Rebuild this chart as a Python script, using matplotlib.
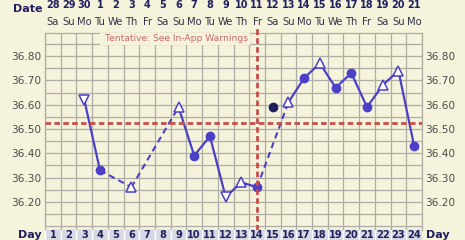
import matplotlib.pyplot as plt
from matplotlib.patches import Rectangle
import matplotlib.transforms as mtransforms

# chart data
day_nums = list(range(1, 25))
dates = ['28', '29', '30', '1', '2', '3', '4', '5', '6', '7', '8', '9', '10', '11',
         '12', '13', '14', '15', '16', '17', '18', '19', '20', '21']
weekdays = ['Sa', 'Su', 'Mo', 'Tu', 'We', 'Th', 'Fr', 'Sa', 'Su', 'Mo', 'Tu', 'We',
            'Th', 'Fr', 'Sa', 'Su', 'Mo', 'Tu', 'We', 'Th', 'Fr', 'Sa', 'Su', 'Mo']
days = [3, 4, 6, 9, 10, 11, 12, 13, 14, 16, 17, 18, 19, 20, 21, 22, 23, 24]
temps = [36.62, 36.33, 36.26, 36.59, 36.39, 36.47, 36.22, 36.28, 36.26, 36.61,
         36.71, 36.77, 36.67, 36.73, 36.59, 36.68, 36.74, 36.43]
kinds = ['v', 'o', '^', '^', 'o', 'o', 'v', '^', 'o', '^', 'o', '^', 'o', 'o', 'o', '^', '^', 'o']
excl_day = [15]
excl_temp = [36.59]
cover_line = 36.525
ovulation_day = 14
yticks = [36.20, 36.30, 36.40, 36.50, 36.60, 36.70, 36.80]

BG = '#f6f3dd'
GRID = '#aeada3'
BLUE = '#4b40c6'
RED = '#c4504a'
NAVY = '#1f1f5c'

W, H = 465, 240
fig = plt.figure(figsize=(W / 100, H / 100), dpi=100, facecolor=BG)
L, R, T, B = 45, 422, 33, 229.5
ax = fig.add_axes([L / W, 1 - B / H, (R - L) / W, (B - T) / H])
ax.set_facecolor(BG)
ax.set_xlim(0.5, 24.5)
ax.set_ylim(36.086, 36.895)

# grid
for x in range(0, 25):
    ax.axvline(x + 0.5, color=GRID, lw=0.9, zorder=1)
y = 36.10
while y < 36.9:
    ax.axhline(y, color=GRID, lw=0.9, zorder=1)
    y += 0.05
for s in ax.spines.values():
    s.set_color(GRID)
    s.set_linewidth(0.9)

# tentative box covering the top of the grid
fig.patches.append(Rectangle((100 / W, 1 - 45 / H), 150 / W, 12 / H,
                             transform=fig.transFigure, facecolor=BG,
                             edgecolor='none', zorder=2))
fig.text(176 / W, 1 - 38.5 / H, 'Tentative: See In-App Warnings', color='#c86a68',
         fontsize=6.6, ha='center', va='center', zorder=3)

# temperature line: solid for consecutive days, dashed across gaps
for i in range(len(days) - 1):
    ls = '-' if days[i + 1] - days[i] == 1 else (0, (3, 2))
    lw = 1.6 if ls == '-' else 1.5
    ax.plot(days[i:i + 2], temps[i:i + 2], color=BLUE, lw=lw, ls=ls, zorder=3)
for d, t, k in zip(days, temps, kinds):
    if k == 'o':
        ax.plot(d, t, 'o', color=BLUE, ms=6, zorder=4)
    else:
        ax.plot(d, t, k, mfc='white', mec=BLUE, mew=1.1, ms=7, zorder=4)
ax.plot(excl_day, excl_temp, 'o', color=NAVY, ms=6, zorder=4, ls='none')

# cover line and ovulation line
ax.axhline(cover_line, color=RED, lw=2, ls=(0, (2, 1.2)), zorder=5)
ax.plot([ovulation_day, ovulation_day], [36.086, 36.895], color=RED, lw=2,
        ls=(0, (2, 1.2)), zorder=5, clip_on=False)
fig.lines.append(plt.Line2D([257 / W, 257 / W], [1 - 30 / H, 1 - 33 / H],
                            color=RED, lw=2, transform=fig.transFigure))

ax.set_xticks([])
ax.set_yticks(yticks)
ax.set_yticklabels(['%.2f' % v for v in yticks])
ax.tick_params(axis='y', length=0, labelsize=7.6, labelcolor='#4a4a4a',
               labelright=True, pad=2.5)

# header rows: date and weekday
trans = mtransforms.blended_transform_factory(ax.transData, fig.transFigure)
for d, dt, wd in zip(day_nums, dates, weekdays):
    ax.text(d, 1 - 5 / H, dt, transform=trans, ha='center', va='center',
            fontsize=7, fontweight='bold', color=NAVY)
    ax.text(d, 1 - 22 / H, wd, transform=trans, ha='center', va='center',
            fontsize=7.2, color='#333348')
fig.text(43 / W, 1 - 9.5 / H, 'Date', ha='right', va='center', fontsize=8,
         fontweight='bold', color=NAVY)

# day band at the bottom
bax = fig.add_axes([L / W, 0, (R - L) / W, (H - B) / H])
bax.set_facecolor('#d6d9e4')
bax.set_xlim(0.5, 24.5)
bax.set_ylim(0, 1)
bax.axis('off')
bax.add_patch(Rectangle((0.5, 0), 24, 1, facecolor='#d6d9e4', edgecolor='none'))
for x in range(0, 25):
    bax.axvline(x + 0.5, color='white', lw=1)
for d in day_nums:
    bax.text(d, 0.45, str(d), ha='center', va='center', fontsize=7.1,
             fontweight='bold', color=NAVY)
fig.text(42 / W, 1 - 234.5 / H, 'Day', ha='right', va='center', fontsize=8,
         fontweight='bold', color=NAVY)
fig.text(426 / W, 1 - 234.5 / H, 'Day', ha='left', va='center', fontsize=8,
         fontweight='bold', color=NAVY)

fig.savefig('out.png', dpi=100, facecolor=BG)
